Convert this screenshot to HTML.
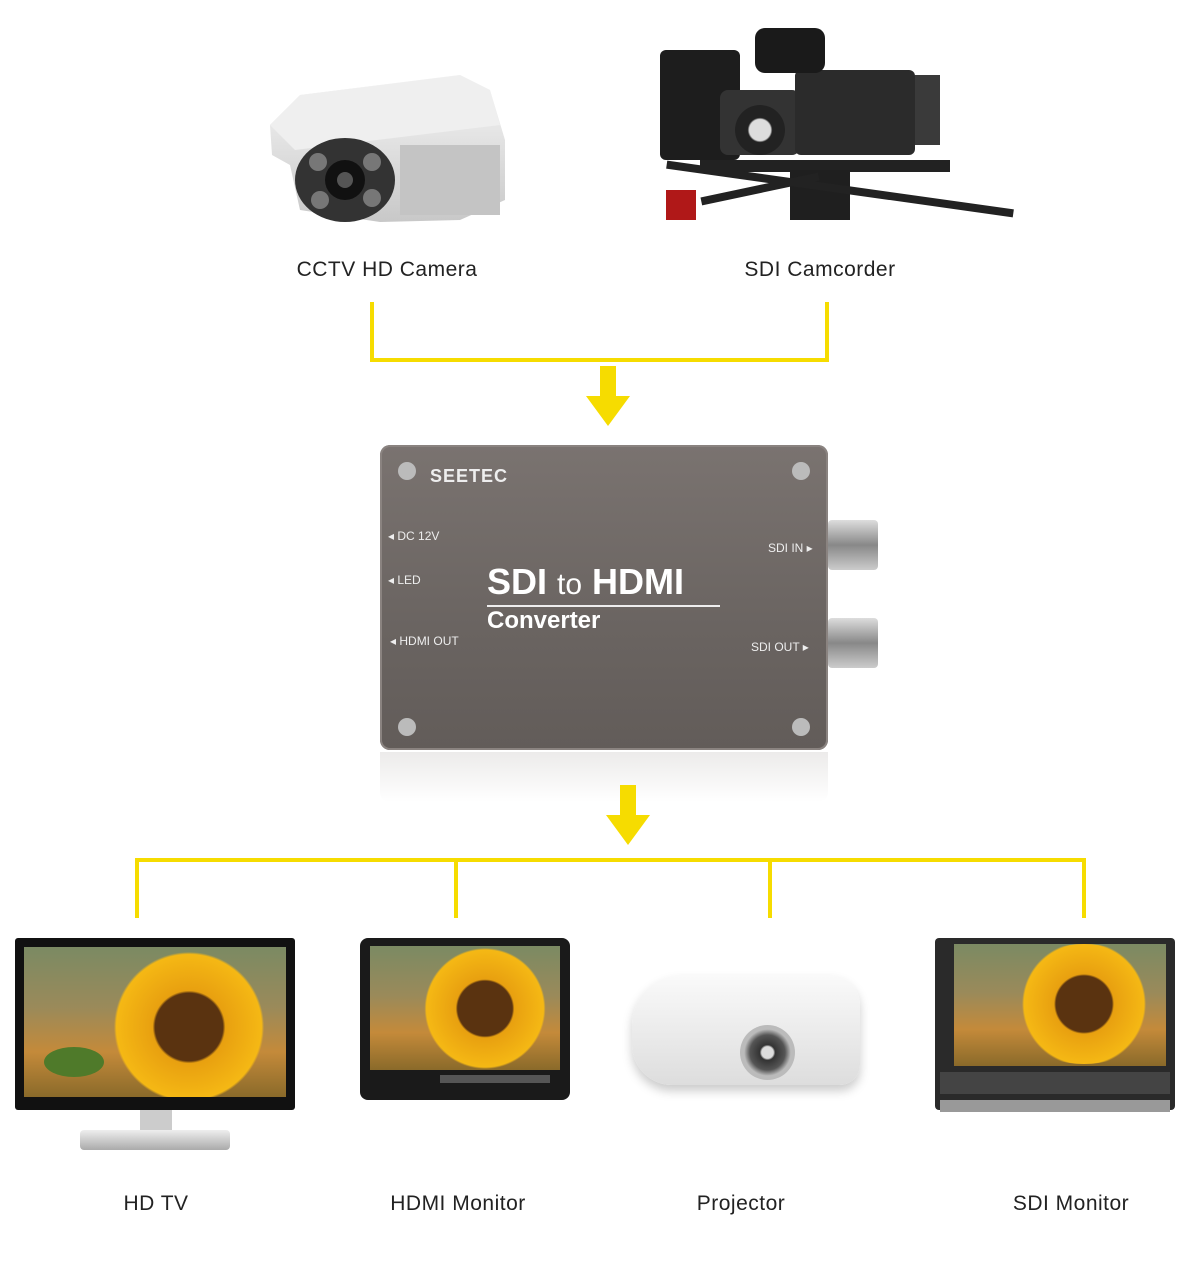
<!DOCTYPE html>
<html><head><meta charset="utf-8"><style>
body{margin:0;width:1189px;height:1268px;background:#fff;position:relative;overflow:hidden;font-family:"Liberation Sans",sans-serif}
.a{position:absolute}
.y{position:absolute;background:#f6dc00}
.lbl{position:absolute;font-size:21px;color:#222;transform:translateX(-50%);white-space:nowrap;letter-spacing:0.5px}
.scr{position:absolute;overflow:hidden;background:linear-gradient(180deg,#7b8a63 0%,#9a8a5a 40%,#c48a3a 70%,#8a6a2a 100%)}
.sun{position:absolute;border-radius:50%;background:radial-gradient(circle,#5a3310 0 28%,#e8a010 30%,#f5b814 60%,rgba(245,184,20,0) 62%)}
.leaf{position:absolute;border-radius:50%;background:#4f7a2a}
</style></head><body>

<!-- CCTV camera -->
<svg class="a" style="left:260px;top:70px" width="250" height="155">
<defs><linearGradient id="g1" x1="0" y1="0" x2="0" y2="1"><stop offset="0" stop-color="#f7f7f7"/><stop offset="1" stop-color="#c8c8c8"/></linearGradient></defs>
<polygon points="10,55 40,25 200,5 230,20 245,70 245,130 200,150 120,152 40,140 30,95 12,85" fill="url(#g1)"/>
<path d="M10,55 L40,25 L200,5 L230,20 L240,55 L35,80 Z" fill="#efefef"/>
<ellipse cx="85" cy="110" rx="50" ry="42" fill="#333"/>
<circle cx="85" cy="110" r="20" fill="#111"/><circle cx="85" cy="110" r="8" fill="#555"/>
<circle cx="58" cy="92" r="9" fill="#777"/><circle cx="112" cy="92" r="9" fill="#777"/><circle cx="60" cy="130" r="9" fill="#777"/><circle cx="112" cy="128" r="9" fill="#777"/>
<rect x="140" y="75" width="100" height="70" fill="#c4c4c4"/>
</svg>
<div class="lbl" style="left:387px;top:258px">CCTV HD Camera</div>

<!-- Camcorder -->
<div class="a" style="left:660px;top:50px;width:80px;height:110px;background:#1d1d1d;border-radius:6px"></div>
<div class="a" style="left:720px;top:90px;width:80px;height:65px;background:#333;border-radius:8px"></div>
<div class="a" style="left:735px;top:105px;width:50px;height:50px;background:radial-gradient(circle,#ddd 0 30%,#222 35%);border-radius:50%"></div>
<div class="a" style="left:795px;top:70px;width:120px;height:85px;background:#2b2b2b;border-radius:6px"></div>
<div class="a" style="left:755px;top:28px;width:70px;height:45px;background:#1a1a1a;border-radius:10px"></div>
<div class="a" style="left:915px;top:75px;width:25px;height:70px;background:#3a3a3a"></div>
<div class="a" style="left:700px;top:160px;width:250px;height:12px;background:#222"></div>
<div class="a" style="left:790px;top:170px;width:60px;height:50px;background:#1f1f1f"></div>
<div class="a" style="left:665px;top:185px;width:350px;height:8px;background:#222;transform:rotate(8deg)"></div>
<div class="a" style="left:700px;top:185px;width:120px;height:8px;background:#222;transform:rotate(-12deg)"></div>
<div class="a" style="left:666px;top:190px;width:30px;height:30px;background:#b01818"></div>
<div class="lbl" style="left:820px;top:258px">SDI Camcorder</div>

<!-- top connectors -->
<div class="y" style="left:370px;top:302px;width:4px;height:60px"></div>
<div class="y" style="left:825px;top:302px;width:4px;height:60px"></div>
<div class="y" style="left:370px;top:358px;width:459px;height:4px"></div>
<div class="y" style="left:600px;top:366px;width:16px;height:32px"></div>
<svg class="a" style="left:586px;top:396px" width="44" height="30"><polygon points="0,0 44,0 22,30" fill="#f6dc00"/></svg>

<!-- converter -->
<div class="a" style="left:380px;top:445px;width:448px;height:305px;background:linear-gradient(180deg,#7a7370,#6a6461 60%,#625c59);border-radius:10px;box-shadow:inset 0 0 0 2px #8a8380"></div>
<div class="a" style="left:380px;top:752px;width:448px;height:50px;background:linear-gradient(180deg,#e4e2e1,#fff);opacity:.7;border-radius:0 0 10px 10px"></div>
<div class="a" style="left:398px;top:462px;width:18px;height:18px;border-radius:50%;background:#bbb"></div>
<div class="a" style="left:792px;top:462px;width:18px;height:18px;border-radius:50%;background:#bbb"></div>
<div class="a" style="left:398px;top:718px;width:18px;height:18px;border-radius:50%;background:#bbb"></div>
<div class="a" style="left:792px;top:718px;width:18px;height:18px;border-radius:50%;background:#bbb"></div>
<div class="a" style="left:430px;top:466px;color:#eee;font-weight:bold;font-size:18px;letter-spacing:1px">SEETEC</div>
<div class="a" style="left:388px;top:529px;color:#eee;font-size:12px">◂ DC 12V</div>
<div class="a" style="left:388px;top:573px;color:#eee;font-size:12px">◂ LED</div>
<div class="a" style="left:390px;top:634px;color:#eee;font-size:12px">◂ HDMI OUT</div>
<div class="a" style="left:768px;top:541px;color:#eee;font-size:12px">SDI IN ▸</div>
<div class="a" style="left:751px;top:640px;color:#eee;font-size:12px">SDI OUT ▸</div>
<div class="a" style="left:487px;top:562px;color:#fff;font-weight:bold;font-size:36px;border-bottom:2px solid #eee;line-height:40px;width:233px">SDI <span style="font-weight:normal;font-size:30px">to</span> HDMI</div>
<div class="a" style="left:487px;top:607px;color:#fff;font-weight:bold;font-size:24px">Converter</div>
<div class="a" style="left:828px;top:520px;width:50px;height:50px;background:linear-gradient(180deg,#ddd,#888,#ccc);border-radius:4px"></div>
<div class="a" style="left:828px;top:618px;width:50px;height:50px;background:linear-gradient(180deg,#ddd,#888,#ccc);border-radius:4px"></div>

<!-- bottom connectors -->
<div class="y" style="left:620px;top:785px;width:16px;height:32px"></div>
<svg class="a" style="left:606px;top:815px" width="44" height="30"><polygon points="0,0 44,0 22,30" fill="#f6dc00"/></svg>
<div class="y" style="left:135px;top:858px;width:951px;height:4px"></div>
<div class="y" style="left:135px;top:858px;width:4px;height:60px"></div>
<div class="y" style="left:454px;top:858px;width:4px;height:60px"></div>
<div class="y" style="left:768px;top:858px;width:4px;height:60px"></div>
<div class="y" style="left:1082px;top:858px;width:4px;height:60px"></div>

<!-- HD TV -->
<div class="a" style="left:15px;top:938px;width:280px;height:172px;background:#111;border-radius:3px"></div>
<div class="scr" style="left:24px;top:947px;width:262px;height:150px"><div class="sun" style="left:70px;top:5px;width:190px;height:150px"></div><div class="leaf" style="left:20px;top:100px;width:60px;height:30px"></div></div>
<div class="a" style="left:140px;top:1110px;width:32px;height:30px;background:#ccc"></div>
<div class="a" style="left:80px;top:1130px;width:150px;height:20px;background:linear-gradient(180deg,#eee,#aaa);border-radius:4px"></div>

<!-- HDMI monitor -->
<div class="a" style="left:360px;top:938px;width:210px;height:162px;background:#1a1a1a;border-radius:8px"></div>
<div class="scr" style="left:370px;top:946px;width:190px;height:124px"><div class="sun" style="left:40px;top:0;width:150px;height:125px"></div></div>
<div class="a" style="left:440px;top:1075px;width:110px;height:8px;background:#555"></div>

<!-- Projector -->
<div class="a" style="left:632px;top:975px;width:228px;height:110px;background:linear-gradient(180deg,#fafafa,#ddd);border-radius:50px 30px 20px 40px;box-shadow:0 6px 10px #ccc"></div>
<div class="a" style="left:740px;top:1025px;width:55px;height:55px;border-radius:50%;background:radial-gradient(circle,#ddd 0 15%,#333 20%,#555 45%,#bbb 60%)"></div>

<!-- SDI monitor -->
<div class="a" style="left:935px;top:938px;width:240px;height:172px;background:#2a2a2a;border-radius:4px"></div>
<div class="scr" style="left:954px;top:944px;width:212px;height:122px"><div class="sun" style="left:50px;top:0;width:160px;height:120px"></div></div>
<div class="a" style="left:940px;top:1072px;width:230px;height:22px;background:#444"></div>
<div class="a" style="left:940px;top:1100px;width:230px;height:12px;background:#999"></div>

<div class="lbl" style="left:156px;top:1192px">HD TV</div>
<div class="lbl" style="left:458px;top:1192px">HDMI Monitor</div>
<div class="lbl" style="left:741px;top:1192px">Projector</div>
<div class="lbl" style="left:1071px;top:1192px">SDI Monitor</div>
</body></html>
